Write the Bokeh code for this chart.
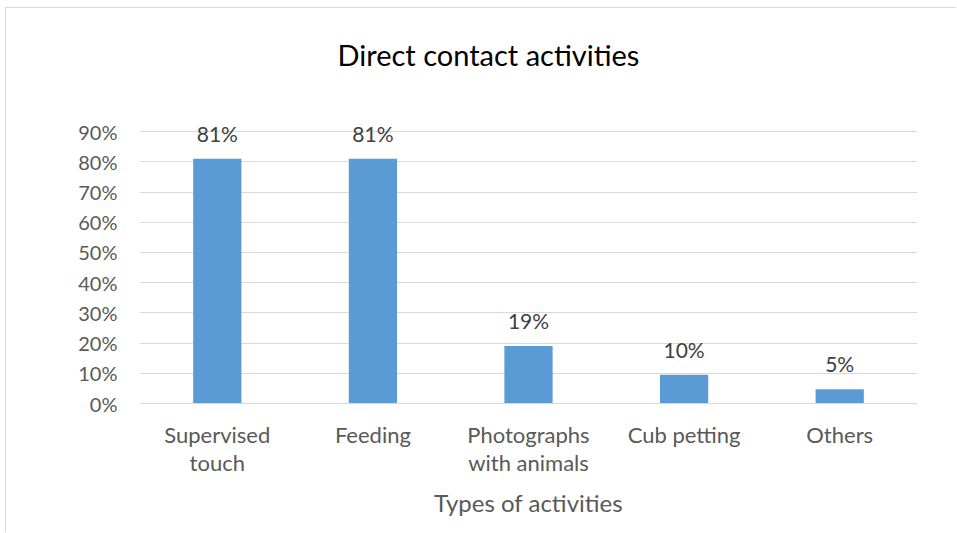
import math
from bokeh.plotting import figure
from bokeh.models import ColumnDataSource, FactorRange, Range1d, NumeralTickFormatter, FixedTicker, LabelSet, Title
from bokeh.core.properties import value
from bokeh.embed import file_html
from bokeh.resources import INLINE

categories = ["Supervised\ntouch", "Feeding", "Photographs\nwith animals", "Cub petting", "Others"]
values = [0.81, 0.81, 0.19, 0.095, 0.047]
y_ticks = [0.0, 0.1, 0.2, 0.3, 0.4, 0.5, 0.6, 0.7, 0.8, 0.9]
labels = [f"{math.floor(v * 100 + 0.5)}%" for v in values]
title_text = "Direct contact activities"
x_title = "Types of activities"

FONT = "Lato"
OX, OY = 6, 8  # offset of canvas due to outer border
FL, FB = 139 - OX, 403 - OY  # frame left / bottom in canvas pixels
W, H = 957 - OX, 533 - OY

src = ColumnDataSource(dict(cat=categories, val=values, lab=labels))

p = figure(width=W, height=H, x_range=FactorRange(*categories, range_padding=0),
           y_range=Range1d(0, 0.95), output_backend="svg", toolbar_location=None,
           min_border_left=FL, min_border_right=W - (917 - OX), min_border_top=116 - OY, min_border_bottom=H - FB)
p.title = None
p.outline_line_color = None
p.background_fill_color = "white"
p.border_fill_color = "white"
p.styles = {"margin-left": "5px", "margin-top": "7px",
            "border-left": "1px solid #D9D9D9", "border-top": "1px solid #D9D9D9"}

p.vbar(x="cat", top="val", width=0.31, source=src, fill_color="#5B9BD5", line_color=None)

p.add_layout(LabelSet(x="cat", y="val", text="lab", source=src, y_offset=13,
                      text_align="center", text_baseline="bottom",
                      text_font=value(FONT), text_font_size="21px", text_color="#404040"))

p.yaxis.ticker = FixedTicker(ticks=y_ticks)
p.yaxis.formatter = NumeralTickFormatter(format="0%")
p.yaxis.axis_line_color = None
p.yaxis.major_tick_line_color = None
p.yaxis.minor_tick_line_color = None
p.yaxis.major_label_standoff = 16
p.yaxis.major_label_text_font = FONT
p.yaxis.major_label_text_font_size = "20px"
p.yaxis.major_label_text_color = "#595959"

p.xaxis.axis_line_color = "#D9D9D9"
p.xaxis.axis_line_width = 1
p.xaxis.major_tick_line_color = None
p.xaxis.minor_tick_line_color = None
p.xaxis.major_label_standoff = 11
p.xaxis.major_label_text_font = FONT
p.xaxis.major_label_text_font_size = "22px"
p.xaxis.major_label_text_color = "#595959"
p.xaxis.major_label_text_line_height = 1.05
p.xaxis.axis_label = x_title
p.xaxis.axis_label_text_font = FONT
p.xaxis.axis_label_text_font_size = "24px"
p.xaxis.axis_label_text_font_style = "normal"
p.xaxis.axis_label_text_color = "#595959"
p.xaxis.axis_label_standoff = 9

p.xgrid.grid_line_color = None
p.ygrid.grid_line_color = "#D9D9D9"
p.ygrid.grid_line_width = 1

# spacer (nearest the frame), then the real title above it
p.add_layout(Title(text=" ", text_font_size="2px", standoff=36), "above")
p.add_layout(Title(text=title_text, align="left", offset=337 - 139,
                   text_font=FONT, text_font_size="29px", text_font_style="normal",
                   text_color="#000000", standoff=10), "above")

open("out.html", "w").write(file_html(p, INLINE))
